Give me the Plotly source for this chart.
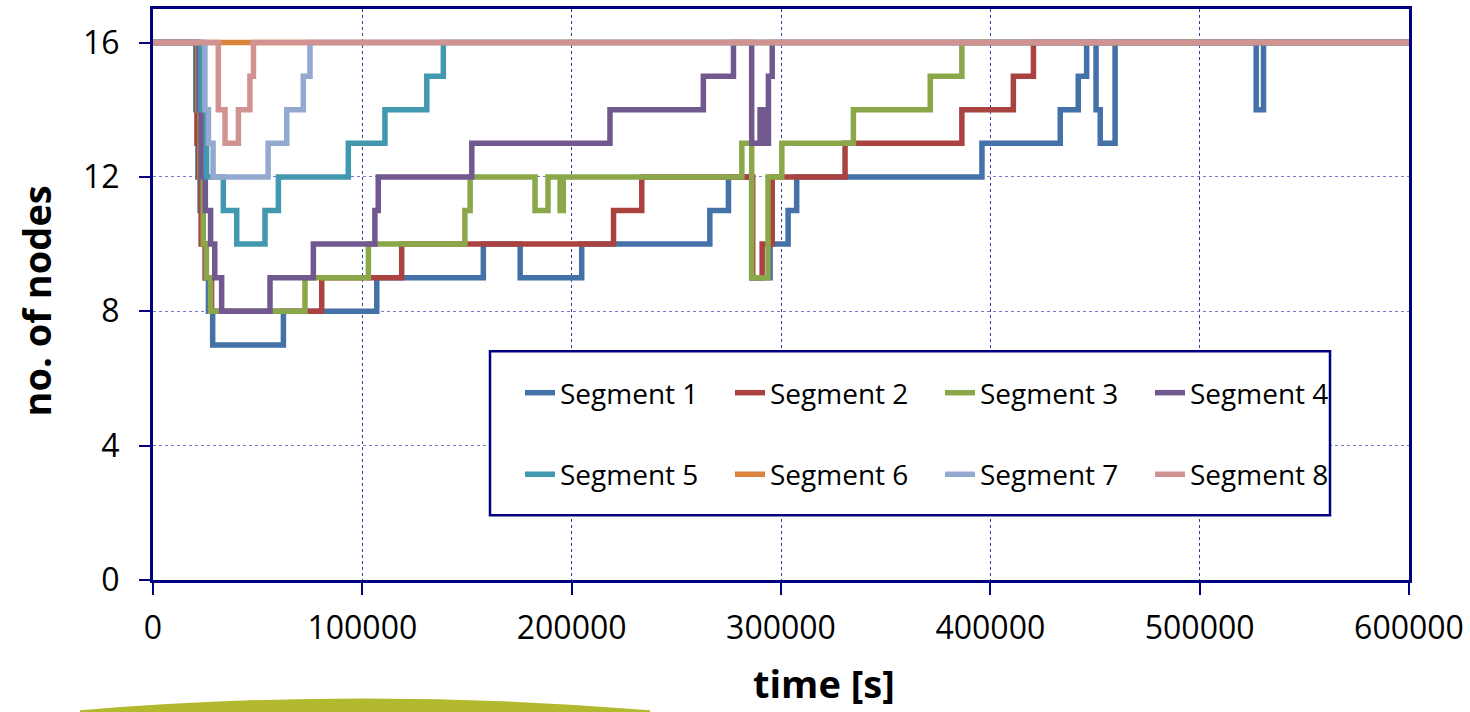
import plotly.graph_objects as go

# Number of active nodes per segment over time (step series: value holds until next time)
seg1_t = [0, 20500, 21500, 22500, 24000, 25000, 26500, 28500, 62300, 106900, 157800, 175400,
          204800, 266000, 274900, 286000, 294800, 303400, 307500, 396000, 433400, 442000,
          446000, 450500, 452500, 459600, 527000, 530500, 600000]
seg1_n = [16, 14, 12, 11, 10, 9, 8, 7, 8, 9, 10, 9,
          10, 11, 12, 9, 10, 11, 12, 13, 14, 15,
          16, 14, 13, 16, 14, 16, 16]

seg2_t = [0, 21000, 21800, 23000, 25000, 26500, 28000, 80600, 118800, 220000, 233500,
          286500, 291000, 295800, 330600, 386400, 411000, 420600, 600000]
seg2_n = [16, 13, 12, 10, 9, 9, 8, 9, 10, 11, 12,
          9, 10, 12, 13, 14, 15, 16, 16]

seg3_t = [0, 21500, 22500, 24000, 25500, 27500, 72600, 102900, 149000, 151500, 182500,
          188700, 194500, 196000, 281300, 286000, 293800, 300400, 334600, 371300, 386400, 600000]
seg3_n = [16, 14, 12, 10, 9, 8, 9, 10, 11, 12, 11,
          12, 11, 12, 13, 9, 12, 13, 14, 15, 16, 16]

seg4_t = [0, 22000, 23000, 25000, 27500, 29500, 32800, 55900, 76600, 106000, 107600,
          152300, 218300, 262900, 277300, 286000, 290000, 291500, 294000, 295800, 600000]
seg4_n = [16, 14, 12, 11, 10, 9, 8, 9, 10, 11, 12,
          13, 14, 15, 16, 13, 14, 13, 15, 16, 16]

seg5_t = [0, 23000, 25600, 33600, 40000, 53500, 59900, 93300, 110800, 130800, 138700, 600000]
seg5_n = [16, 14, 12, 11, 10, 11, 12, 13, 14, 15, 16, 16]

seg6_t = [0, 600000]
seg6_n = [16, 16]

seg7_t = [0, 24800, 26500, 28700, 55000, 63900, 71800, 75000, 600000]
seg7_n = [16, 14, 13, 12, 13, 14, 15, 16, 16]

seg8_t = [0, 31200, 34400, 40800, 46300, 48000, 600000]
seg8_n = [16, 14, 13, 14, 15, 16, 16]

series = [
    ("Segment 1", seg1_t, seg1_n, "#4571A9", "legend"),
    ("Segment 2", seg2_t, seg2_n, "#AA4340", "legend"),
    ("Segment 3", seg3_t, seg3_n, "#8AA74A", "legend"),
    ("Segment 4", seg4_t, seg4_n, "#71588F", "legend"),
    ("Segment 5", seg5_t, seg5_n, "#4198AF", "legend2"),
    ("Segment 6", seg6_t, seg6_n, "#DB843D", "legend2"),
    ("Segment 7", seg7_t, seg7_n, "#93A9CF", "legend2"),
    ("Segment 8", seg8_t, seg8_n, "#D19392", "legend2"),
]

FONT = "Open Sans"
NAVY = "#000080"

fig = go.Figure()
for name, t, n, color, lg in series:
    fig.add_trace(go.Scatter(
        x=t, y=n, name=name, mode="lines", line_shape="hv",
        line=dict(color=color, width=5.5), legend=lg,
    ))

# pixel helpers for the fixed 1470x712 canvas
L, R, T, B = 153, 1409, 6, 580
def px(x):
    return (x - L) / (R - L)
def py(y):
    return (B - y) / (B - T)

legend_common = dict(
    orientation="h", xanchor="left", yanchor="middle",
    font=dict(family=FONT, size=28, color="black"),
    bgcolor="rgba(0,0,0,0)", borderwidth=0,
    entrywidth=165, entrywidthmode="pixels", itemwidth=30,
)

fig.update_layout(
    width=1470, height=712,
    margin=dict(l=L, r=1470 - R, t=T, b=712 - B),
    paper_bgcolor="white", plot_bgcolor="white",
    font=dict(family=FONT, color="black"),
    xaxis=dict(
        range=[0, 600000], tickvals=[0, 100000, 200000, 300000, 400000, 500000, 600000],
        ticktext=["0", "100000", "200000", "300000", "400000", "500000", "600000"],
        showline=True, linecolor=NAVY, linewidth=3, mirror=True,
        ticks="outside", ticklen=12, tickwidth=1.5, tickcolor=NAVY,
        showgrid=True, gridcolor="#3a3aa8", gridwidth=1, griddash="dot",
        zeroline=False, tickfont=dict(family=FONT, size=32, color="black"),
        ticklabelstandoff=6,
    ),
    yaxis=dict(
        range=[0, 17], tickvals=[0, 4, 8, 12, 16],
        showline=True, linecolor=NAVY, linewidth=3, mirror=True,
        ticks="outside", ticklen=11, tickwidth=1.5, tickcolor=NAVY,
        showgrid=True, gridcolor="#7a7ac4", gridwidth=1, griddash="dot",
        zeroline=False, tickfont=dict(family=FONT, size=32, color="black"),
        ticklabelstandoff=13,
    ),
    legend=dict(x=px(520), y=py(392), **legend_common),
    legend2=dict(x=px(520), y=py(474), **legend_common),
    showlegend=True,
)

# legend frame
fig.add_shape(type="rect", xref="paper", yref="paper",
              x0=px(490), x1=px(1330), y0=py(515), y1=py(350),
              line=dict(color=NAVY, width=2.5), fillcolor="white", layer="above")

# decorative olive arc along the bottom edge
fig.add_shape(type="path", xref="paper", yref="paper",
              path=f"M {px(80)},{py(711)} Q {px(365)},{py(687)} {px(650)},{py(711)} "
                   f"L {px(650)},{py(720)} L {px(80)},{py(720)} Z",
              line=dict(width=0), fillcolor="#B3B92E", layer="above")

# axis titles
fig.add_annotation(text="<b>time [s]</b>", xref="paper", yref="paper",
                   x=px(824), y=py(711), xanchor="center", yanchor="bottom",
                   borderpad=0, showarrow=False,
                   font=dict(family=FONT, size=38, color="black"))
fig.add_annotation(text="<b>no. of nodes</b>", xref="paper", yref="paper",
                   x=px(36), y=py(300), xanchor="center", yanchor="middle",
                   showarrow=False, textangle=-90,
                   font=dict(family=FONT, size=38, color="black"))

fig.write_html("out.html")
